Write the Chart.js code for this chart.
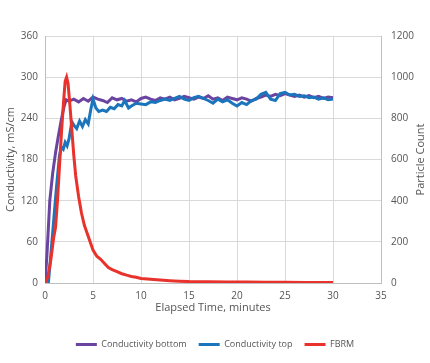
<!DOCTYPE html>
<html>
<head>
<meta charset="utf-8">
<script src="https://cdn.jsdelivr.net/npm/chart.js@4"></script>
<style>
  html, body { margin: 0; padding: 0; background: #ffffff; }
  #wrap { width: 430px; height: 363px; }
</style>
</head>
<body>
<div id="wrap"><canvas id="chart" width="430" height="363"></canvas></div>
<script>
// Sample data
const bottomTime = [0, 0.2, 0.5, 0.8, 1.1, 1.4, 1.7, 2.0, 2.2, 2.5, 3.0, 3.5, 4.0, 4.5, 5.0, 5.5, 6.0, 6.5, 7.0, 7.5, 8.0, 8.5, 9.0, 9.5, 10, 10.5, 11, 11.5, 12, 12.5, 13, 13.5, 14, 14.5, 15, 15.5, 16, 16.5, 17, 17.5, 18, 18.5, 19, 19.5, 20, 20.5, 21, 21.5, 22, 22.5, 23, 23.5, 24, 24.5, 25, 25.5, 26, 26.5, 27, 27.5, 28, 28.5, 29, 29.5, 30];
const bottomValues = [0, 40, 120, 160, 190, 215, 238, 258, 267, 265, 268, 264, 269, 265, 271, 268, 266, 263, 270, 267, 269, 265, 267, 264, 269, 271, 268, 266, 270, 268, 271, 267, 269, 272, 270, 268, 271, 269, 273, 268, 270, 266, 271, 269, 267, 270, 268, 265, 269, 271, 274, 272, 275, 273, 276, 274, 272, 274, 271, 273, 270, 272, 269, 271, 270];

const topTime = [0.35, 0.6, 0.9, 1.2, 1.5, 1.7, 1.9, 2.1, 2.3, 2.5, 2.8, 3.0, 3.3, 3.6, 3.9, 4.2, 4.5, 4.8, 5.0, 5.3, 5.6, 6.0, 6.4, 6.8, 7.2, 7.6, 8.0, 8.3, 8.7, 9.0, 9.5, 10, 10.5, 11, 11.5, 12, 12.5, 13, 13.5, 14, 14.5, 15, 15.5, 16, 16.5, 17, 17.5, 18, 18.5, 19, 19.5, 20, 20.5, 21, 21.5, 22, 22.5, 23, 23.5, 24, 24.5, 25, 25.5, 26, 26.5, 27, 27.5, 28, 28.5, 29, 29.5, 30];
const topValues = [0, 40, 90, 140, 185, 198, 195, 205, 200, 210, 235, 230, 225, 236, 228, 238, 232, 255, 268, 255, 250, 252, 250, 256, 254, 260, 258, 266, 255, 258, 262, 261, 260, 264, 263, 266, 268, 266, 269, 272, 268, 266, 270, 272, 269, 266, 262, 268, 264, 267, 262, 258, 263, 260, 266, 268, 275, 278, 268, 266, 276, 278, 274, 275, 272, 273, 270, 271, 268, 270, 267, 268];

const fbrmTime = [0, 0.3, 0.6, 0.9, 1.1, 1.3, 1.5, 1.7, 1.9, 2.1, 2.25, 2.4, 2.6, 2.8, 3.0, 3.2, 3.5, 3.8, 4.1, 4.4, 4.7, 5.0, 5.4, 5.8, 6.2, 6.6, 7.0, 7.5, 8.0, 8.5, 9.0, 9.5, 10, 11, 12, 13, 14, 15, 17, 19, 21, 23, 25, 27, 30];
const fbrmValues = [0, 30, 110, 220, 270, 400, 560, 720, 860, 980, 1000, 970, 860, 740, 620, 520, 420, 340, 280, 240, 200, 160, 130, 115, 95, 75, 65, 55, 45, 38, 32, 28, 22, 18, 14, 11, 9, 7, 6, 5, 5, 4, 4, 3, 3];

const xTicks = [0, 5, 10, 15, 20, 25, 30, 35];

const fontFamily = "'Open Sans', sans-serif";
const textColor = "#555555";
const gridColor = "#d9d9d9";

function toPoints(times, values) {
  return times.map((t, i) => ({ x: t, y: values[i] }));
}

// right axis title reads bottom-to-top like the left one
const rightTitle = {
  id: "rightTitle",
  afterDraw(chart) {
    const ctx = chart.ctx;
    const area = chart.chartArea;
    ctx.save();
    ctx.translate(421, (area.top + area.bottom) / 2);
    ctx.rotate(-Math.PI / 2);
    ctx.font = "11px " + fontFamily;
    ctx.fillStyle = textColor;
    ctx.textAlign = "center";
    ctx.textBaseline = "middle";
    ctx.fillText("Particle Count", 0, 0);
    ctx.restore();
  },
};

const ctx = document.getElementById("chart").getContext("2d");

new Chart(ctx, {
  type: "line",
  data: {
    datasets: [
      {
        label: "Conductivity bottom",
        data: toPoints(bottomTime, bottomValues),
        borderColor: "#6a44a0",
        backgroundColor: "#6a44a0",
        borderWidth: 3,
        pointRadius: 0,
        yAxisID: "y",
        order: 2,
      },
      {
        label: "Conductivity top",
        data: toPoints(topTime, topValues),
        borderColor: "#1b75bc",
        backgroundColor: "#1b75bc",
        borderWidth: 3,
        pointRadius: 0,
        yAxisID: "y",
        order: 1,
      },
      {
        label: "FBRM",
        data: toPoints(fbrmTime, fbrmValues),
        borderColor: "#e8322b",
        backgroundColor: "#e8322b",
        borderWidth: 3,
        pointRadius: 0,
        yAxisID: "y2",
        order: 0,
      },
    ],
  },
  options: {
    responsive: false,
    animation: false,
    layout: { padding: { top: 36, bottom: 4, left: 0, right: 0 } },
    scales: {
      x: {
        type: "linear",
        min: 0,
        max: 35,
        afterBuildTicks: (scale) => {
          scale.ticks = xTicks.map((v) => ({ value: v }));
        },
        grid: { color: gridColor, drawTicks: false },
        border: { color: "#bfbfbf" },
        ticks: { color: textColor, font: { family: fontFamily, size: 10 }, padding: 7 },
        title: {
          display: true,
          text: "Elapsed Time, minutes",
          color: textColor,
          font: { family: fontFamily, size: 11 },
          padding: { top: 2, bottom: 14 },
        },
        afterFit: (scale) => { scale.height = 45; },
      },
      y: {
        position: "left",
        min: 0,
        max: 360,
        ticks: { stepSize: 60, color: textColor, font: { family: fontFamily, size: 10 }, padding: 7 },
        grid: { color: gridColor, drawTicks: false },
        border: { color: "#bfbfbf" },
        title: {
          display: true,
          text: "Conductivity, mS/cm",
          color: textColor,
          font: { family: fontFamily, size: 11 },
          padding: { top: 4, bottom: 0 },
        },
        afterFit: (scale) => { scale.width = 45; },
      },
      y2: {
        position: "right",
        min: 0,
        max: 1200,
        ticks: {
          stepSize: 200,
          color: textColor,
          font: { family: fontFamily, size: 10 },
          padding: 10,
          callback: (v) => String(v),
        },
        grid: { drawOnChartArea: false, drawTicks: false },
        border: { color: "#bfbfbf" },
        afterFit: (scale) => { scale.width = 49; },
      },
    },
    plugins: {
      legend: {
        position: "bottom",
        labels: {
          usePointStyle: true,
          pointStyle: "line",
          pointStyleWidth: 21,
          padding: 12,
          color: textColor,
          font: { family: fontFamily, size: 9 },
          sort: (a, b) => a.datasetIndex - b.datasetIndex,
        },
      },
      tooltip: { enabled: false },
    },
  },
  plugins: [rightTitle],
});
</script>
</body>
</html>
